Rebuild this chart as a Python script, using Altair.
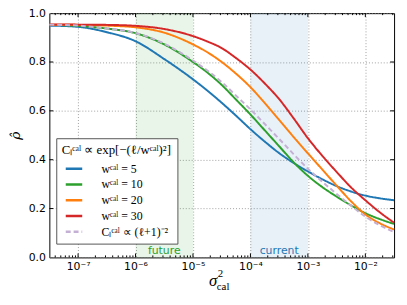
import altair as alt
import pandas as pd

# ---- data ----
log_x = [-7.5, -7.0, -6.5, -6.0, -5.5, -5.0, -4.75, -4.5, -4.25, -4.0, -3.75,
         -3.5, -3.25, -3.0, -2.75, -2.5, -2.25, -2.0, -1.75, -1.5]

rho_w5 = [0.949, 0.944, 0.922, 0.885, 0.812, 0.729, 0.683, 0.633, 0.580, 0.525,
          0.474, 0.427, 0.387, 0.352, 0.320, 0.292, 0.270, 0.253, 0.242, 0.234]
rho_w10 = [0.952, 0.948, 0.937, 0.918, 0.872, 0.800, 0.757, 0.706, 0.646, 0.585,
           0.520, 0.455, 0.390, 0.334, 0.288, 0.249, 0.213, 0.181, 0.157, 0.137]
rho_w20 = [0.953, 0.952, 0.949, 0.942, 0.920, 0.872, 0.840, 0.800, 0.752, 0.697,
           0.632, 0.563, 0.493, 0.426, 0.360, 0.294, 0.230, 0.176, 0.140, 0.114]
rho_w30 = [0.954, 0.953, 0.952, 0.948, 0.935, 0.906, 0.884, 0.857, 0.816, 0.769,
           0.712, 0.648, 0.570, 0.488, 0.416, 0.350, 0.287, 0.234, 0.185, 0.142]
rho_pow = [0.953, 0.949, 0.937, 0.919, 0.875, 0.806, 0.765, 0.718, 0.662, 0.606,
           0.546, 0.485, 0.423, 0.363, 0.310, 0.260, 0.212, 0.167, 0.132, 0.104]

series_names = ["wᶜᵃˡ = 5", "wᶜᵃˡ = 10", "wᶜᵃˡ = 20", "wᶜᵃˡ = 30",
                "Cₗᶜᵃˡ ∝ (ℓ+1)⁻²"]
series_values = [rho_w5, rho_w10, rho_w20, rho_w30, rho_pow]
series_colors = ["#1f77b4", "#2ca02c", "#ff7f0e", "#d62728", "#c5b0d5"]
series_dash = [[1, 0], [1, 0], [1, 0], [1, 0], [5, 3]]

legend_title = "Cₗᶜᵃˡ ∝ exp[−(ℓ/wᶜᵃˡ)²]"

decade_ticks = [1e-7, 1e-6, 1e-5, 1e-4, 1e-3, 1e-2]
decade_labels = ["10⁻⁷", "10⁻⁶", "10⁻⁵", "10⁻⁴", "10⁻³", "10⁻²"]
minor_mult = [2, 3, 4, 5, 6, 7, 8, 9]
minor_decades = [1e-8, 1e-7, 1e-6, 1e-5, 1e-4, 1e-3, 1e-2]
y_ticks = [0.0, 0.2, 0.4, 0.6, 0.8, 1.0]

bands = pd.DataFrame({
    "x0": [1e-6, 1e-4], "x1": [1e-5, 1e-3],
    "label": ["future", "current"], "color": ["#2ca02c", "#1f77b4"],
    "xmid": [10 ** -5.5, 10 ** -3.5],
})

xmin, xmax = 10 ** -7.5, 10 ** -1.5

rows = []
for name, vals in zip(series_names, series_values):
    for lx, v in zip(log_x, vals):
        rows.append({"x": 10 ** lx, "rho": v, "series": name})
df = pd.DataFrame(rows)

minor = [m * d for d in minor_decades for m in minor_mult if xmin <= m * d <= xmax]
minor_df = pd.DataFrame({"x": minor})
major_df = pd.DataFrame({"x": decade_ticks})
yt_df = pd.DataFrame({"y": y_ticks[1:-1]})

W, H = 350, 248
xscale = alt.Scale(type="log", domain=[xmin, xmax], nice=False)
yscale = alt.Scale(domain=[0, 1], nice=False)

label_expr = " : ".join(
    f"datum.value < {t * 1.5} ? '{l}'" for t, l in zip(decade_ticks, decade_labels)
) + " : ''"

rect = alt.Chart(bands).mark_rect(fillOpacity=0.1).transform_calculate(
    y0="0"
).encode(
    x=alt.X("x0:Q", scale=xscale,
            axis=alt.Axis(values=decade_ticks, labelExpr=label_expr, title=None,
                          grid=True, ticks=False, domain=False, labelPadding=3)),
    x2="x1:Q",
    y=alt.Y("y0:Q", scale=yscale,
            axis=alt.Axis(values=y_ticks, format=".1f", title="ρ̂", grid=True,
                          ticks=False, domain=False, labelPadding=4,
                          titleFont="DejaVu Serif", titleFontSize=14,
                          titleFontWeight="normal", titleFontStyle="italic",
                          titleX=-34, titleY=124, titleAngle=270,
                          titleAlign="center", titleBaseline="middle")),
    y2=alt.Y2(datum=1),
    color=alt.Color("color:N", scale=None),
)

band_text = alt.Chart(bands).mark_text(fontSize=11, baseline="alphabetic",
                                       font="DejaVu Sans").encode(
    x=alt.X("xmid:Q", scale=xscale),
    y=alt.Y(datum=0.012),
    text="label:N",
    color=alt.Color("color:N", scale=None),
)

leg = alt.Legend(orient="none", legendX=7, legendY=127, title=legend_title,
                 titleFont="Liberation Serif", titleFontSize=13,
                 titleFontWeight="normal", titleColor="black", titlePadding=2,
                 titleAnchor="middle",
                 labelFont="Liberation Serif", labelFontSize=12,
                 labelColor="black", symbolType="stroke", symbolSize=280,
                 symbolStrokeWidth=2.5, symbolOpacity=1, fillColor="white",
                 strokeColor="#555", padding=6, rowPadding=0, labelOffset=18)

lines = alt.Chart(df).mark_line(strokeWidth=2, interpolate="monotone",
                                opacity=1).encode(
    x=alt.X("x:Q", scale=xscale),
    y=alt.Y("rho:Q", scale=yscale),
    color=alt.Color("series:N", scale=alt.Scale(domain=series_names,
                                                range=series_colors),
                    sort=series_names, legend=leg),
    strokeDash=alt.StrokeDash("series:N", scale=alt.Scale(domain=series_names,
                                                          range=series_dash),
                              sort=series_names, legend=leg),
    order=alt.Order("x:Q"),
)

def xticks(data, length):
    bot = alt.Chart(data).mark_rule(color="black", strokeWidth=1).encode(
        x=alt.X("x:Q", scale=xscale), y=alt.value(H), y2=alt.value(H - length))
    top = alt.Chart(data).mark_rule(color="black", strokeWidth=1).encode(
        x=alt.X("x:Q", scale=xscale), y=alt.value(0), y2=alt.value(length))
    return [bot, top]

yl = alt.Chart(yt_df).mark_rule(color="black", strokeWidth=1).encode(
    y=alt.Y("y:Q", scale=yscale), x=alt.value(0), x2=alt.value(4))
yr = alt.Chart(yt_df).mark_rule(color="black", strokeWidth=1).encode(
    y=alt.Y("y:Q", scale=yscale), x=alt.value(W), x2=alt.value(W - 4))

one = alt.Data(values=[{"a": 1}])
sig = alt.Chart(one).mark_text(font="Liberation Serif", fontSize=17,
                               fontStyle="italic", align="left",
                               baseline="alphabetic").encode(
    x=alt.value(162), y=alt.value(277), text=alt.value("σ"))
sup = alt.Chart(one).mark_text(font="Liberation Serif", fontSize=11,
                               align="left", baseline="alphabetic").encode(
    x=alt.value(171), y=alt.value(268), text=alt.value("2"))
sub = alt.Chart(one).mark_text(font="Liberation Serif", fontSize=11,
                               align="left", baseline="alphabetic").encode(
    x=alt.value(170), y=alt.value(281), text=alt.value("cal"))

chart = alt.layer(
    rect, band_text, lines, *xticks(major_df, 4), *xticks(minor_df, 2), yl, yr,
    sig, sup, sub,
).properties(
    width=W, height=H,
    padding={"left": 42, "top": 3, "right": 5, "bottom": 40},
    autosize=alt.AutoSizeParams(type="none"),
).configure_view(
    stroke="black", strokeWidth=1,
).configure_axis(
    gridColor="#888", gridDash=[1, 2], gridWidth=0.8, gridOpacity=1,
    labelFont="DejaVu Sans", labelFontSize=11, labelColor="black",
)

chart.save("out.html", embed_options={"renderer": "svg", "actions": False})
